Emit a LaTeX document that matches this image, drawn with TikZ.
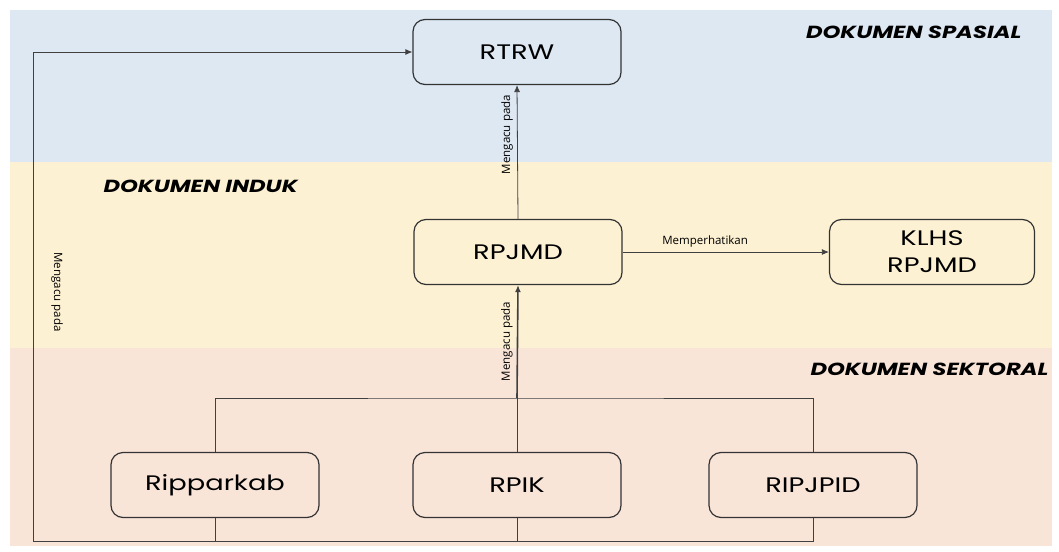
\documentclass[tikz,border=0pt]{standalone}
\usepackage{fontspec}
\setmainfont{Open Sans}
\newfontfamily\boxfont{Poppins}[FakeStretch=1.3]
\usetikzlibrary{arrows.meta}
\definecolor{spasial}{HTML}{DDE8F3}
\definecolor{induk}{HTML}{FDF1D3}
\definecolor{sektoral}{HTML}{F9E4D8}
\tikzset{doc/.style={draw=black!80, line width=1.2pt, rounded corners=12pt,
    minimum width=208pt, minimum height=65pt, align=center,
    font=\boxfont\fontsize{21}{27}\selectfont},
  zone/.style={font=\boxfont\fontsize{17.5}{20}\selectfont\bfseries\itshape},
  link/.style={draw=black!75, line width=0.8pt},
  lbl/.style={font=\fontsize{11.5}{13}\selectfont, inner sep=4pt},
}

\begin{document}
\begin{tikzpicture}[x=1pt,y=-1pt]
	\useasboundingbox (0,0) rectangle (1059,551);
	% bands
	\fill[spasial] (10,10) rectangle (1052,162);
	\fill[induk] (10,162) rectangle (1052,348);
	\fill[sektoral] (10,348) rectangle (1052,546);
	\node[zone, anchor=east] (zspasial) at (1025,32) {DOKUMEN SPASIAL};
	\node[zone, anchor=west] (zinduk) at (100,186) {DOKUMEN INDUK};
	\node[zone, anchor=east] (zsektoral) at (1052,369) {DOKUMEN SEKTORAL};
	% documents
	\node[doc, fill=spasial] (rtrw) at (517,52) {RTRW};
	\node[doc, fill=induk] (rpjmd) at (518,252) {RPJMD};
	\node[doc, fill=induk, minimum width=205pt] (klhs) at (932,252) {KLHS\\RPJMD};
	\node[doc, fill=sektoral] (ripparkab) at (215,485) {Ripparkab};
	\node[doc, fill=sektoral] (rpik) at (517,485) {RPIK};
	\node[doc, fill=sektoral] (ripjpid) at (813,485) {RIPJPID};
	\coordinate (bus) at (517,398);
	\coordinate (corner) at (33,541);
	% connectors
	\draw[link] (ripparkab.north) |- (bus) -| (ripjpid.north);
	\draw[link] (rpik.north) -- (bus);
	\draw[link, line width=1.6pt, -{Latex[length=7pt,width=6pt]}] (bus) -- node[lbl, midway, rotate=90, above] {Mengacu pada} (rpjmd.south);
	\draw[link, -{Latex[length=7pt,width=6pt]}] (rpjmd.north) -- node[lbl, pos=0.63, rotate=90, above] {Mengacu pada} (rtrw.south);
	\draw[link, -{Latex[length=7pt,width=6pt]}] (rpjmd.east) -- node[lbl, pos=0.4, above] {Memperhatikan} (klhs.west);
	\draw[link] (ripparkab.south) -- (ripparkab.south |- corner);
	\draw[link] (rpik.south) -- (rpik.south |- corner);
	\draw[link, -{Latex[length=7pt,width=6pt]}] (ripjpid.south) |- (corner) |- (rtrw.west);
	\node[lbl, rotate=-90] (lkiri) at (57,292) {Mengacu pada};
\end{tikzpicture}
\end{document}
